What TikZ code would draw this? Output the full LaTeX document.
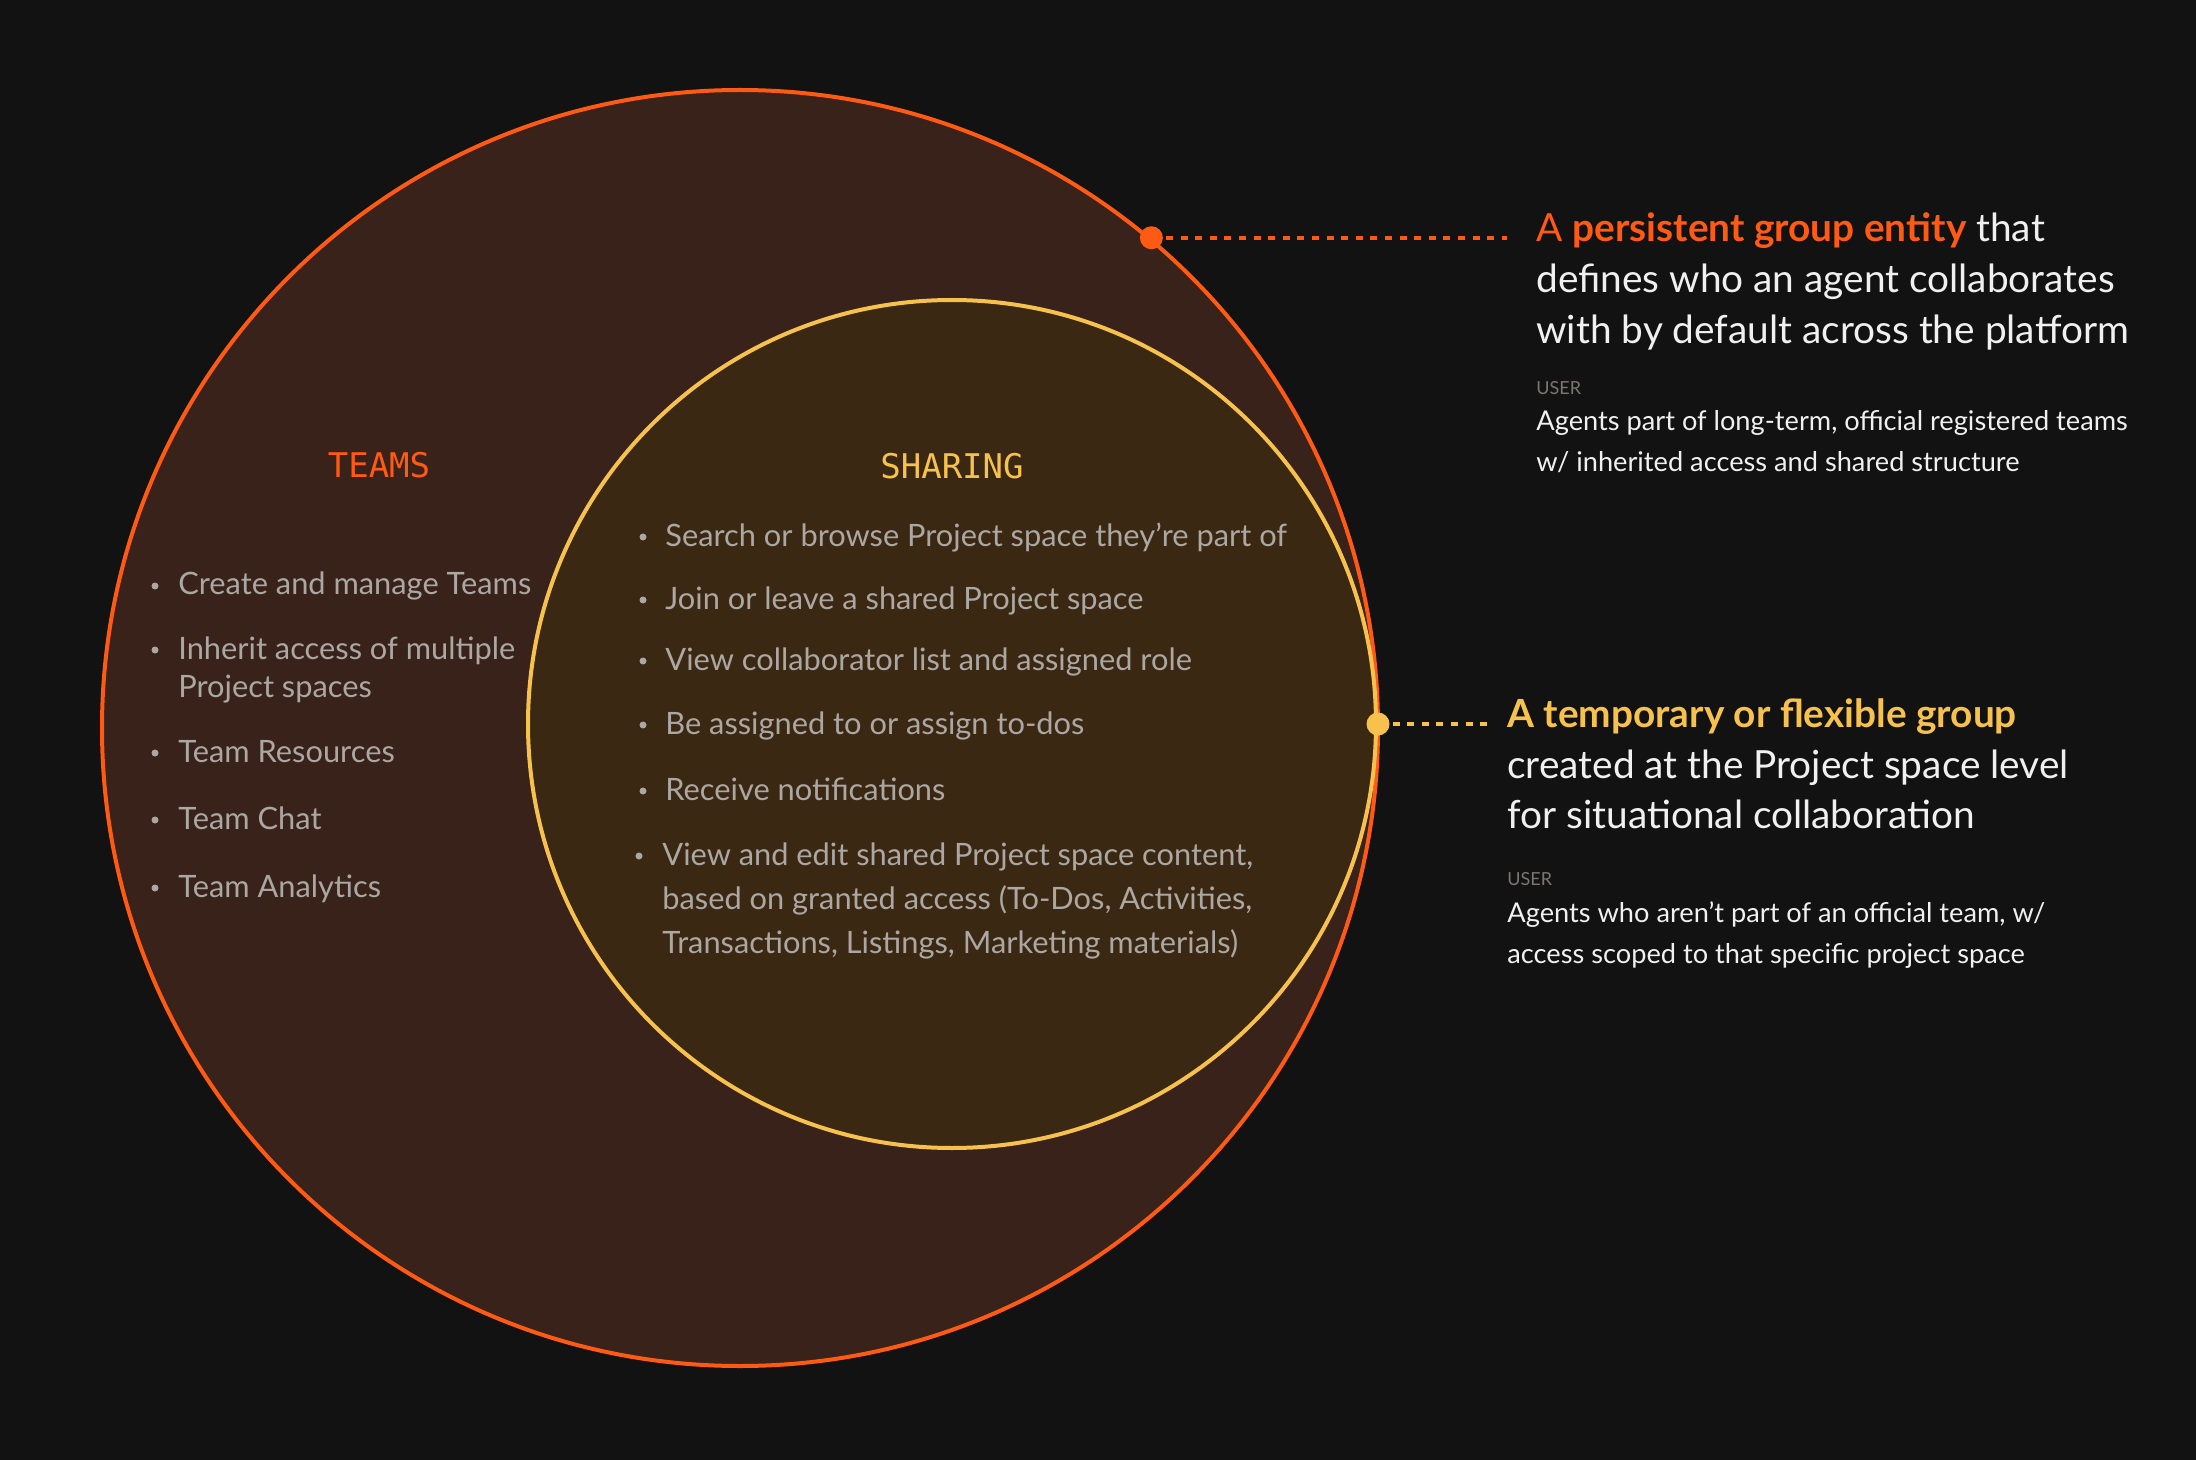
\documentclass[tikz,border=0pt]{standalone}
\usepackage{fontspec}
\setmainfont{Lato}
\newfontfamily\headfont{DejaVu Sans Mono}
\usetikzlibrary{positioning}

\definecolor{bgcol}{HTML}{121212}
\definecolor{teamline}{HTML}{FF5A14}
\definecolor{teamfill}{HTML}{38221A}
\definecolor{shareline}{HTML}{F6C14C}
\definecolor{sharefill}{HTML}{3B2813}
\definecolor{itemcol}{HTML}{ABA7A3}
\definecolor{notecol}{HTML}{F0F0F0}
\definecolor{usercol}{HTML}{7B766F}

\newcommand*{\picw}{2196}
\newcommand*{\pich}{1460}

\begin{document}
\begin{tikzpicture}
[
	x=0.5pt, y=-0.5pt,
	bigcirc/.style={circle,line width=2pt,inner sep=0pt},
	headtxt/.style={anchor=base,inner sep=0pt,font=\headfont\fontsize{17}{20}\selectfont},
	itemtxt/.style={anchor=base west,inner sep=0pt,text=itemcol,font=\fontsize{15.4}{18}\selectfont},
	notetxt/.style={anchor=base west,inner sep=0pt,text=notecol,font=\fontsize{19.4}{22}\selectfont},
	usertxt/.style={anchor=base west,inner sep=0pt,text=usercol,font=\fontsize{9}{11}\selectfont},
	detailtxt/.style={anchor=base west,inner sep=0pt,text=notecol,font=\fontsize{13.6}{16}\selectfont},
	linkdot/.style={circle,inner sep=0pt,minimum size=11.5pt},
	linkline/.style={line width=2pt,dash pattern=on 3.5pt off 3.8pt}
]

	% background
	\useasboundingbox (0,0) rectangle (\picw,\pich);
	\fill[bgcol] (0,0) rectangle (\picw,\pich);

	% circles
	\node[bigcirc,draw=teamline,fill=teamfill,minimum size=638pt] (teams) at (740,728) {};
	\node[bigcirc,draw=shareline,fill=sharefill,minimum size=424pt] (sharing) at (952,724) {};

	% headings
	\node[headtxt,text=teamline] (teamshead) at (379,478) {TEAMS};
	\node[headtxt,text=shareline] (sharehead) at (952,479) {SHARING};

	% teams list
	\foreach \i/\y/\t in {1/595/Create and manage Teams,2/659/Inherit access of multiple,3/762/Team Resources,4/829/Team Chat,5/897/Team Analytics} {
		\fill[itemcol] (155,\y-9) circle (1.75pt);
		\node[itemtxt] (tm\i) at (178,\y) {\t};
	}
	\node[itemtxt] (tm2b) at (178,697) {Project spaces};

	% sharing list
	\foreach \i/\y/\t in {1/546/Search or browse Project space they’re part of,2/609/Join or leave a shared Project space,3/670/View collaborator list and assigned role,4/734/Be assigned to or assign to-dos,5/800/Receive notifications} {
		\fill[itemcol] (643,\y-9) circle (1.75pt);
		\node[itemtxt] (sh\i) at (665,\y) {\t};
	}
	\fill[itemcol] (639,856) circle (1.75pt);
	\node[itemtxt] (sh6) at (662,865) {View and edit shared Project space content,};
	\node[itemtxt] (sh6b) at (662,909) {based on granted access (To-Dos, Activities,};
	\node[itemtxt] (sh6c) at (662,953) {Transactions, Listings, Marketing materials)};

	% teams note
	\node[notetxt] (tn1) at (1536,242) {\textcolor{teamline}{A \textbf{persistent group entity}} that};
	\node[notetxt] (tn2) at (1536,293) {defines who an agent collaborates};
	\node[notetxt] (tn3) at (1536,344) {with by default across the platform};
	\node[usertxt] (tuser) at (1536,395) {USER};
	\node[detailtxt] (td1) at (1536,431) {Agents part of long-term, official registered teams};
	\node[detailtxt] (td2) at (1536,472) {w/ inherited access and shared structure};

	% sharing note
	\node[notetxt] (sn1) at (1507,727) {\textcolor{shareline}{\textbf{A temporary or flexible group}}};
	\node[notetxt] (sn2) at (1507,778) {created at the Project space level};
	\node[notetxt] (sn3) at (1507,828) {for situational collaboration};
	\node[usertxt] (suser) at (1507,885) {USER};
	\node[detailtxt] (sd1) at (1507,922) {Agents who aren’t part of an official team, w/};
	\node[detailtxt] (sd2) at (1507,963) {access scoped to that specific project space};

	% connectors
	\node[linkdot,fill=teamline] (tdot) at (teams.50.5) {};
	\node[linkdot,fill=shareline] (sdot) at (sharing.0.7) {};
	\coordinate (tend) at (1507,0);
	\coordinate (send) at (1489,0);
	\draw[linkline,teamline] (tdot.center) -- (tdot.center -| tend);
	\draw[linkline,shareline] (sdot.center) -- (sdot.center -| send);

\end{tikzpicture}
\end{document}
